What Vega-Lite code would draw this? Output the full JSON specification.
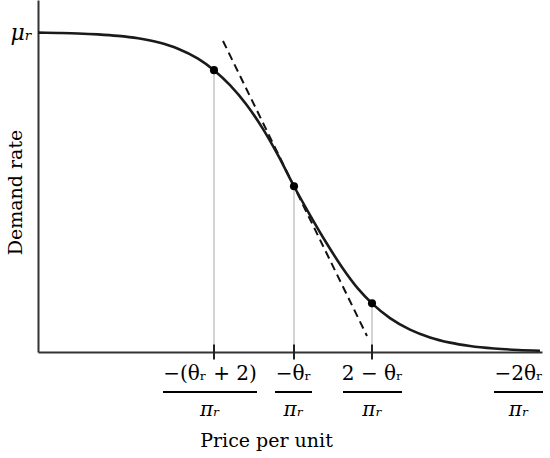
{
  "$schema": "https://vega.github.io/schema/vega-lite/v6.json",
  "width": 504,
  "height": 352,
  "autosize": {"type": "none"},
  "padding": {"top": 0, "left": 38, "right": 8, "bottom": 106},
  "background": "white",
  "config": {"view": {"stroke": null}},
  "datasets": {
    "curve": [
      {"price": 0, "demand": 0.998},
      {"price": 0.5, "demand": 0.997},
      {"price": 1.0, "demand": 0.9955},
      {"price": 1.5, "demand": 0.9926},
      {"price": 2.0, "demand": 0.9879},
      {"price": 2.5, "demand": 0.9802},
      {"price": 3.0, "demand": 0.9677},
      {"price": 3.5, "demand": 0.9479},
      {"price": 4.0, "demand": 0.9168},
      {"price": 4.4, "demand": 0.8808},
      {"price": 4.8, "demand": 0.834},
      {"price": 5.2, "demand": 0.775},
      {"price": 5.6, "demand": 0.702},
      {"price": 6.0, "demand": 0.615},
      {"price": 6.4, "demand": 0.518},
      {"price": 6.8, "demand": 0.428},
      {"price": 7.2, "demand": 0.343},
      {"price": 7.6, "demand": 0.265},
      {"price": 8.0, "demand": 0.198},
      {"price": 8.35, "demand": 0.152},
      {"price": 8.8, "demand": 0.106},
      {"price": 9.3, "demand": 0.07},
      {"price": 9.8, "demand": 0.0455},
      {"price": 10.3, "demand": 0.0293},
      {"price": 10.8, "demand": 0.0188},
      {"price": 11.4, "demand": 0.011},
      {"price": 12.0, "demand": 0.0064},
      {"price": 12.55, "demand": 0.004}
    ],
    "tangent": [
      {"price": 4.625, "demand": 0.972},
      {"price": 8.225, "demand": 0.05}
    ],
    "points": [
      {"price": 4.4, "demand": 0.8808},
      {"price": 6.4, "demand": 0.518},
      {"price": 8.35, "demand": 0.152}
    ],
    "labels": [
      {"num": "−(θᵣ + 2)", "den": "πᵣ", "center": 4.3, "left": 3.125, "right": 5.475},
      {"num": "−θᵣ", "den": "πᵣ", "center": 6.39, "left": 5.925, "right": 6.85},
      {"num": "2 − θᵣ", "den": "πᵣ", "center": 8.36, "left": 7.625, "right": 9.1},
      {"num": "−2θᵣ", "den": "πᵣ", "center": 12.02, "left": 11.4, "right": 12.625}
    ]
  },
  "layer": [
    {
      "data": {"name": "points"},
      "mark": {"type": "rule", "color": "#a8a8a8", "strokeWidth": 1},
      "encoding": {
        "x": {"field": "price", "type": "quantitative"},
        "y": {"field": "demand", "type": "quantitative"},
        "y2": {"value": "height"}
      }
    },
    {
      "data": {"name": "points"},
      "mark": {"type": "tick", "orient": "vertical", "color": "#222", "thickness": 2, "size": 15, "opacity": 1},
      "encoding": {
        "x": {"field": "price", "type": "quantitative"},
        "y": {"datum": 0, "type": "quantitative"}
      }
    },
    {
      "data": {"name": "tangent"},
      "mark": {"type": "line", "color": "#111", "strokeWidth": 2, "strokeDash": [8, 5]},
      "encoding": {
        "x": {"field": "price", "type": "quantitative"},
        "y": {"field": "demand", "type": "quantitative"}
      }
    },
    {
      "data": {"name": "curve"},
      "mark": {"type": "line", "color": "#1a1a1a", "strokeWidth": 2.6, "interpolate": "monotone"},
      "encoding": {
        "x": {"field": "price", "type": "quantitative", "scale": {"domain": [0, 12.6], "nice": false, "zero": false},
              "axis": {"domain": true, "domainColor": "#333", "domainWidth": 2, "ticks": false, "labels": false, "grid": false,
                       "title": "Price per unit", "titleFont": "DejaVu Serif", "titleFontSize": 19, "titleFontWeight": "normal", "titleColor": "#000",
                       "titleX": 228, "titleY": 88, "titleAlign": "center", "titleBaseline": "middle"}},
        "y": {"field": "demand", "type": "quantitative", "scale": {"domain": [0, 1.1], "nice": false},
              "axis": {"domain": true, "domainColor": "#333", "domainWidth": 2, "ticks": false, "grid": false,
                       "values": [1], "labelExpr": "'μᵣ'", "labelFont": "DejaVu Serif", "labelFontStyle": "italic", "labelFontSize": 22, "labelColor": "#000", "labelPadding": 6,
                       "title": "Demand rate", "titleFont": "DejaVu Serif", "titleFontSize": 19, "titleFontWeight": "normal", "titleColor": "#000",
                       "titleX": -23, "titleY": 192, "titleAngle": 270, "titleAlign": "center", "titleBaseline": "middle"}}
      }
    },
    {
      "data": {"name": "points"},
      "mark": {"type": "point", "filled": true, "color": "#000", "size": 65, "opacity": 1},
      "encoding": {
        "x": {"field": "price", "type": "quantitative"},
        "y": {"field": "demand", "type": "quantitative"}
      }
    },
    {
      "data": {"name": "labels"},
      "mark": {"type": "text", "font": "DejaVu Serif", "fontSize": 20, "color": "#000", "baseline": "middle", "align": "center"},
      "encoding": {
        "x": {"field": "center", "type": "quantitative"},
        "y": {"datum": -0.069, "type": "quantitative"},
        "text": {"field": "num"}
      }
    },
    {
      "data": {"name": "labels"},
      "mark": {"type": "rule", "color": "#000", "strokeWidth": 2},
      "encoding": {
        "x": {"field": "left", "type": "quantitative"},
        "x2": {"field": "right"},
        "y": {"datum": -0.125, "type": "quantitative"}
      }
    },
    {
      "data": {"name": "labels"},
      "mark": {"type": "text", "font": "DejaVu Serif", "fontSize": 20, "fontStyle": "italic", "color": "#000", "baseline": "middle", "align": "center"},
      "encoding": {
        "x": {"field": "center", "type": "quantitative"},
        "y": {"datum": -0.181, "type": "quantitative"},
        "text": {"field": "den"}
      }
    }
  ]
}
